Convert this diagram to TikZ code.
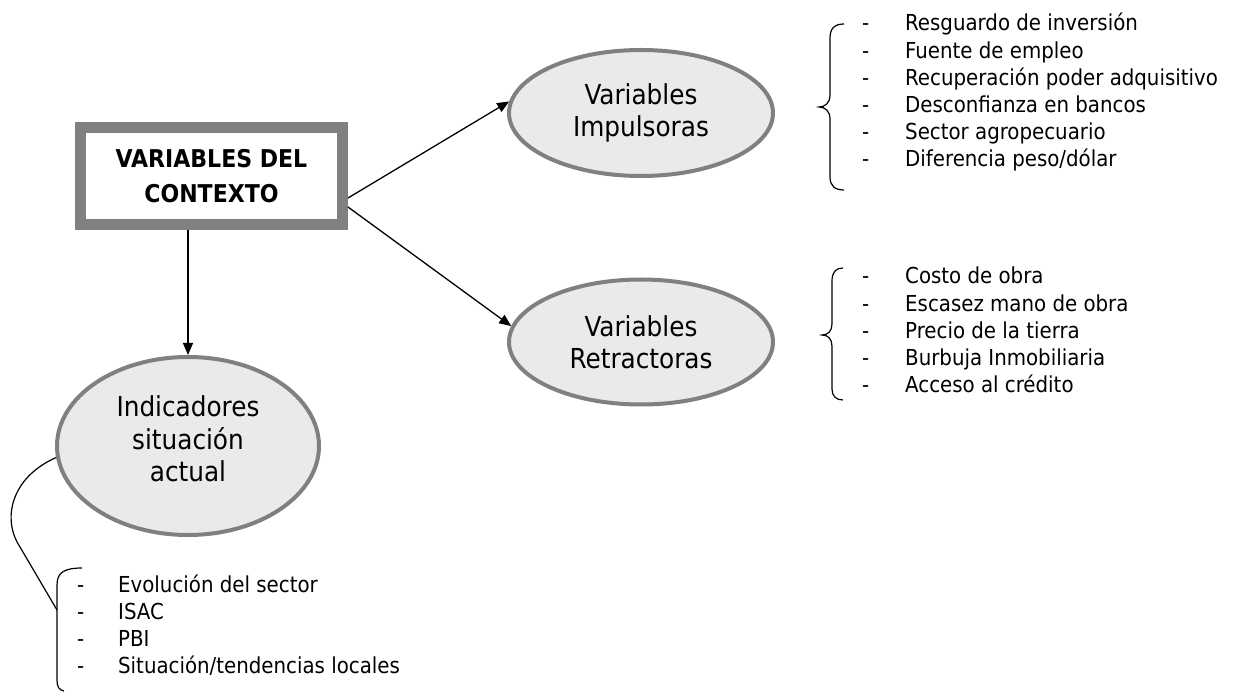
\documentclass[tikz,border=0pt]{standalone}
\usepackage{fontspec}
\setmainfont{DejaVu Sans Condensed}
\usetikzlibrary{arrows.meta,shapes.geometric}
\definecolor{bordergray}{HTML}{808080}
\definecolor{ellfill}{HTML}{EAEAEA}
\begin{document}
\begin{tikzpicture}[x=1pt,y=-1pt,
  oval/.style={ellipse, draw=bordergray, fill=ellfill, line width=4pt, inner sep=0pt, align=center, font=\fontsize{27.5}{32.5}\selectfont},
  ctxbox/.style={rectangle, draw=bordergray, line width=11pt, fill=white, minimum width=262pt, minimum height=97pt, inner sep=0pt, align=center, font=\bfseries\fontsize{24.5}{35}\selectfont},
  arr/.style={line width=1.3pt, -{Triangle[length=12pt,width=10pt]}},
  bracestyle/.style={line width=1.2pt},
  listtext/.style={anchor=base west, inner sep=0pt, font=\fontsize{22}{27.2}\selectfont}]
\useasboundingbox[fill=white] (0,0) rectangle (1235,692);

\node[ctxbox] (ctx) at (211.5,176) {VARIABLES DEL\\CONTEXTO};
\node[oval, minimum width=264pt, minimum height=126pt] (imp) at (641,113) {Variables\\Impulsoras};
\node[oval, minimum width=264pt, minimum height=125pt] (ret) at (641,342) {Variables\\Retractoras};
\node[oval, minimum width=262pt, minimum height=178pt] (ind) at (188,446) {Indicadores\\situación\\actual\rule[-14pt]{0pt}{0pt}};

\draw[arr] ([yshift=-22pt]ctx.east) -- (imp.175);
\draw[arr] ([yshift=-31pt]ctx.east) -- (ret.173);
\draw[arr] (ind.north |- ctx.south) -- (ind.north);

% braces
\draw[bracestyle] (844,24) .. controls (835,24) and (830,28) .. (830,38) -- (830,95) .. controls (830,103) and (825,107) .. (819,107) .. controls (825,107) and (830,111) .. (830,119) -- (830,177) .. controls (830,186) and (835,190) .. (844,190);
\draw[bracestyle] (843,268) .. controls (836,268) and (832,272) .. (832,281) -- (832,324) .. controls (832,331) and (828,335) .. (822,335) .. controls (828,335) and (832,339) .. (832,346) -- (832,389) .. controls (832,396) and (836,400) .. (843,400);
\draw[bracestyle] (82,568) .. controls (65,568) and (57,572) .. (57,585) -- (57,680) .. controls (57,687) and (59,690) .. (64,691);

\coordinate (indtip) at (57,610);
\draw[bracestyle] (ind.185) .. controls (10,478) and (2,520) .. (20,547) -- (indtip);

\node[listtext] (implist) at (862,31) {\begin{tabular}[t]{@{}p{43pt}@{}l@{}}
-&Resguardo de inversión\\
-&Fuente de empleo\\
-&Recuperación poder adquisitivo\\
-&Desconfianza en bancos\\
-&Sector agropecuario\\
-&Diferencia peso/dólar
\end{tabular}};

\node[listtext] (retlist) at (862,284) {\begin{tabular}[t]{@{}p{43pt}@{}l@{}}
-&Costo de obra\\
-&Escasez mano de obra\\
-&Precio de la tierra\\
-&Burbuja Inmobiliaria\\
-&Acceso al crédito
\end{tabular}};

\node[listtext] (indlist) at (77,592) {\begin{tabular}[t]{@{}p{41pt}@{}l@{}}
-&Evolución del sector\\
-&ISAC\\
-&PBI\\
-&Situación/tendencias locales
\end{tabular}};
\end{tikzpicture}
\end{document}
